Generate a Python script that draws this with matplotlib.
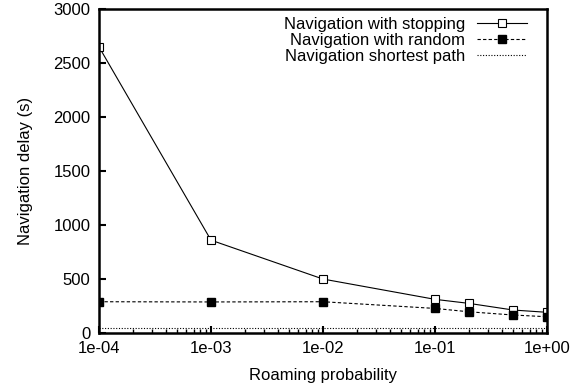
import matplotlib
matplotlib.use("Agg")
import matplotlib.pyplot as plt
from matplotlib.ticker import FixedLocator, LogLocator, NullFormatter

plt.rcParams['font.family'] = ['Liberation Sans', 'DejaVu Sans']

# roaming probability values on the x axis
roam_prob = [1e-4, 1e-3, 1e-2, 1e-1, 0.2, 0.5, 1.0]

# navigation delay in seconds
delay_stopping = [2650, 860, 500, 312, 275, 213, 192]
delay_random = [290, 288, 290, 228, 197, 167, 151]
delay_shortest = [45, 45, 45, 45, 45, 45, 45]

x_ticks = [1e-4, 1e-3, 1e-2, 1e-1, 1.0]
x_tick_labels = ["1e-04", "1e-03", "1e-02", "1e-01", "1e+00"]
y_ticks = [0, 500, 1000, 1500, 2000, 2500, 3000]

fig = plt.figure(figsize=(5.82, 3.90), dpi=100)
ax = fig.add_axes([0.170, 0.146, 0.770, 0.831])

ax.plot(roam_prob, delay_stopping, color='black', linewidth=0.8,
        marker='s', markersize=6, markerfacecolor='white',
        markeredgecolor='black', markeredgewidth=0.8,
        label="Navigation with stopping")
ax.plot(roam_prob, delay_random, color='black', linewidth=0.8,
        linestyle=(0, (3, 2)), marker='s', markersize=6,
        markerfacecolor='black', markeredgecolor='black',
        label="Navigation with random")
ax.plot(roam_prob, delay_shortest, color='black', linewidth=0.8,
        linestyle=(0, (1, 1.5)), label="Navigation shortest path")

ax.set_xscale('log')
ax.set_xlim(1e-4, 1.0)
ax.set_ylim(0, 3000)
ax.xaxis.set_major_locator(FixedLocator(x_ticks))
ax.set_xticklabels(x_tick_labels)
ax.xaxis.set_minor_locator(LogLocator(base=10, subs=range(2, 10)))
ax.xaxis.set_minor_formatter(NullFormatter())
ax.set_yticks(y_ticks)

ax.tick_params(which='both', direction='in', top=False, right=False,
               labelsize=12, width=1.5, pad=6)
ax.tick_params(which='major', length=5)
ax.tick_params(which='minor', length=3, width=1)
for side in ax.spines.values():
    side.set_linewidth(1.8)

ax.set_xlabel("Roaming probability", fontsize=12, labelpad=8)
ax.set_ylabel("Navigation delay (s)", fontsize=12, labelpad=15)

# key sits in the top right corner, text right-aligned next to the samples
ax.legend(loc='upper right', bbox_to_anchor=(0.973, 1.0), frameon=False,
          markerfirst=False, fontsize=12, handlelength=3.0,
          labelspacing=0.05, borderaxespad=0.3, handletextpad=0.7,
          borderpad=0.2)

fig.savefig("out.png", dpi=100)
